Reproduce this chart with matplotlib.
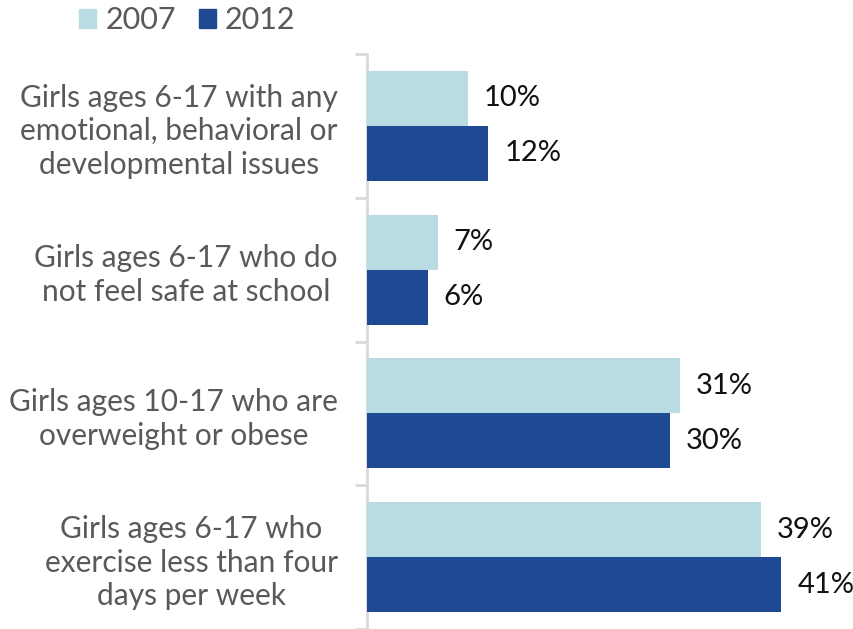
import numpy as np
import matplotlib.pyplot as plt
from matplotlib.patches import Patch

categories = [
    "Girls ages 6-17 with any\nemotional, behavioral or\ndevelopmental issues",
    "Girls ages 6-17 who do\nnot feel safe at school",
    "Girls ages 10-17 who are\noverweight or obese",
    "Girls ages 6-17 who\nexercise less than four\ndays per week",
]
vals_2007 = [10, 7, 31, 39]
vals_2012 = [12, 6, 30, 41]
series_names = ["2007", "2012"]

light = "#B9DCE2"
dark = "#1F4A93"
grey_text = "#595959"

plt.rcParams['font.family'] = ['Lato', 'DejaVu Sans']

fig = plt.figure(figsize=(8.54, 6.29), dpi=100)
ax = fig.add_axes([367 / 854, 0, 487 / 854, 575 / 629])

y = np.arange(len(categories))
h = 0.382
b1 = ax.barh(y - h / 2, vals_2007, height=h, color=light, zorder=3)
b2 = ax.barh(y + h / 2, vals_2012, height=h, color=dark, zorder=3)

# value labels just right of each bar
for bars, vals in [(b1, vals_2007), (b2, vals_2012)]:
    for bar, v in zip(bars, vals):
        ax.annotate(f"{v}%", (bar.get_width(), bar.get_y() + bar.get_height() / 2),
                    xytext=(16, 0), textcoords='offset pixels',
                    ha='left', va='center', fontsize=21, color='#111111')

ax.set_xlim(0, 48.2)
ax.set_ylim(len(categories) - 0.5, -0.5)
ax.set_yticks(y)
ax.set_yticklabels(categories, fontsize=21.5, color=grey_text, multialignment='center',
                   linespacing=1.25)
ax.set_yticks(np.arange(len(categories) + 1) - 0.5, minor=True)
ax.tick_params(axis='y', which='major', length=0, pad=21)
ax.tick_params(axis='y', which='minor', length=9, width=2, color='#d9d9d9')
ax.set_xticks([])
for s in ['top', 'right', 'bottom']:
    ax.spines[s].set_visible(False)
ax.spines['left'].set_color('#d9d9d9')
ax.spines['left'].set_linewidth(2)

handles = [Patch(color=light), Patch(color=dark)]
fig.legend(handles, series_names, loc='upper left', bbox_to_anchor=(79 / 854, 1 - 6 / 629),
           ncol=2, frameon=False, fontsize=22, handlelength=0.56, handleheight=0.56,
           handletextpad=0.3, columnspacing=0.75, borderpad=0, borderaxespad=0,
           labelcolor=grey_text)

fig.savefig("out.png", dpi=100)
